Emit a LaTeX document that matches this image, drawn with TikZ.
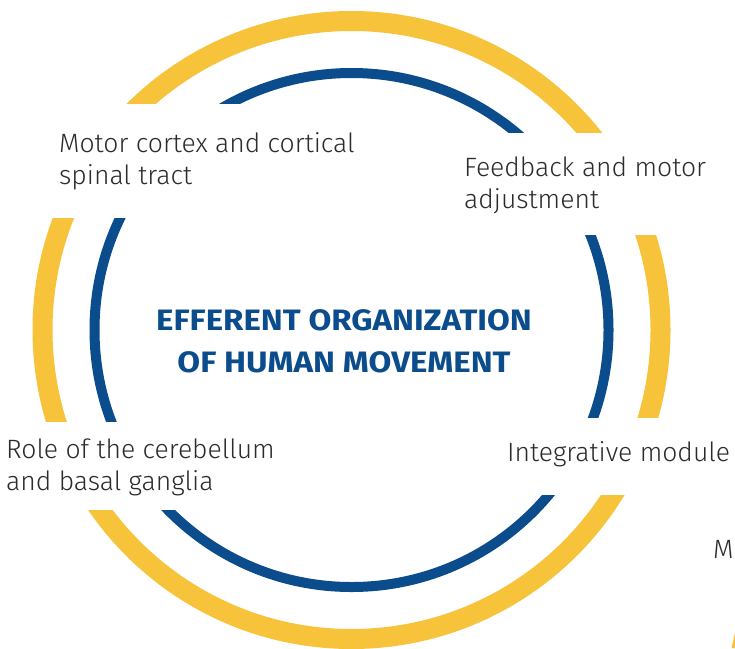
\documentclass[tikz,border=0pt]{standalone}
\usepackage{fontspec}
\setmainfont{Fira Sans Light}
\newfontfamily\titlefont[FakeStretch=1.12]{Fira Sans}
\definecolor{ringyellow}{HTML}{F6C33B}
\definecolor{ringblue}{HTML}{0B4C8C}
\definecolor{labelgray}{HTML}{2B2B2B}

\begin{document}
\begin{tikzpicture}[x=1pt,y=-1pt,
  topic/.style={anchor=base west, inner sep=0pt, align=left, text=labelgray,
    font=\fontsize{26.5}{32}\selectfont}]
\useasboundingbox (0,0) rectangle (735,648);
\fill[white] (0,0) rectangle (735,648);
% the two rings
\draw[ringyellow, line width=20pt] (351.5,330) circle[radius=309pt];
\draw[ringblue, line width=10pt] (351.5,330) circle[radius=257pt];
% white bands behind the texts
\fill[white] (0,104) rectangle (440,218);
\fill[white] (440,133) rectangle (735,235);
\fill[white] (0,422) rectangle (340,510);
\fill[white] (400,418) rectangle (735,495);
\fill[ringyellow] (731.5,648) -- (735,633) -- (735,648) -- cycle;
\node[topic] (cortex) at (59,184) {Motor cortex and cortical\\spinal tract};
\node[topic] (feedback) at (464,208) {Feedback and motor\\adjustment};
\node[topic] (cerebellum) at (6,490) {Role of the cerebellum\\and basal ganglia};
\node[topic] (module) at (507,461) {Integrative module};
\node[topic] (cut) at (713,558) {M};
\node[align=center, text=ringblue, inner sep=0pt, font=\titlefont\bfseries\fontsize{29.5}{42}\selectfont]
  (title) at (344,341) {EFFERENT ORGANIZATION\\OF HUMAN MOVEMENT};
\end{tikzpicture}
\end{document}
